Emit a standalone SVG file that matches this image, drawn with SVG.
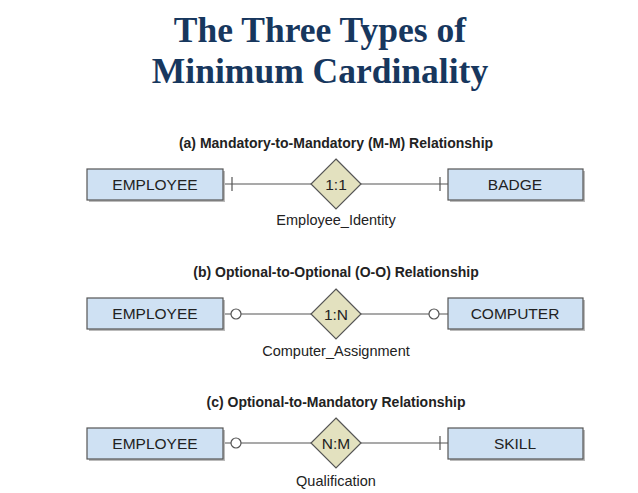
<svg xmlns="http://www.w3.org/2000/svg" width="638" height="493" viewBox="0 0 638 493">
<style>
.t{font-family:"Liberation Serif",serif;font-weight:bold;font-size:35.5px;fill:#17375e;text-anchor:middle}
.h{font-family:"Liberation Sans",Arial,sans-serif;font-weight:bold;font-size:14px;fill:#222;text-anchor:middle}
.l{font-family:"Liberation Sans",Arial,sans-serif;font-size:14.5px;fill:#222;text-anchor:middle}
.e{font-family:"Liberation Sans",Arial,sans-serif;font-size:15.5px;fill:#222;text-anchor:middle}
.box{fill:#cfe1f3;stroke:#555;stroke-width:1.2}
.sh{fill:#bbb}
.dia{fill:#e3e1bf;stroke:#555;stroke-width:1.2}
.ln{stroke:#555;stroke-width:1.2;fill:none}
.c{fill:#fff;stroke:#555;stroke-width:1.2}
</style>
<rect width="638" height="493" fill="#fff"/>
<text class="t" x="320" y="42">The Three Types of</text>
<text class="t" x="320" y="83">Minimum Cardinality</text>
<text class="h" x="336" y="148">(a) Mandatory-to-Mandatory (M-M) Relationship</text>
<text class="h" x="336" y="277">(b) Optional-to-Optional (O-O) Relationship</text>
<text class="h" x="336" y="407">(c) Optional-to-Mandatory Relationship</text>
<g id="connectors">
<path class="ln" d="M223 184H311M361 184H448M232 177V191M440 177V191"/>
<path class="ln" d="M223 314H231M241 314H311M361 314H429M439 314H448"/>
<circle class="c" cx="236" cy="314" r="5"/><circle class="c" cx="434" cy="314" r="5"/>
<path class="ln" d="M223 443H231M241 443H311M361 443H448M440 436V450"/>
<circle class="c" cx="236" cy="443" r="5"/>
</g>
<g id="emp_a"><rect class="sh" x="89" y="171" width="136" height="31"/><rect class="box" x="87" y="169" width="136" height="31"/><text class="e" x="155" y="190">EMPLOYEE</text></g>
<g id="badge"><rect class="sh" x="450" y="171" width="135" height="31"/><rect class="box" x="448" y="169" width="135" height="31"/><text class="e" x="515" y="190">BADGE</text></g>
<g id="rel_a"><polygon class="dia" points="336,159 361,184 336,209 311,184"/><text class="e" x="336" y="190">1:1</text><text class="l" x="336" y="225">Employee_Identity</text></g>
<g id="emp_b"><rect class="sh" x="89" y="300" width="136" height="31"/><rect class="box" x="87" y="298" width="136" height="31"/><text class="e" x="155" y="319">EMPLOYEE</text></g>
<g id="computer"><rect class="sh" x="450" y="300" width="135" height="31"/><rect class="box" x="448" y="298" width="135" height="31"/><text class="e" x="515" y="319">COMPUTER</text></g>
<g id="rel_b"><polygon class="dia" points="336,289 361,314 336,339 311,314"/><text class="e" x="336" y="320">1:N</text><text class="l" x="336" y="356">Computer_Assignment</text></g>
<g id="emp_c"><rect class="sh" x="89" y="430" width="136" height="31"/><rect class="box" x="87" y="428" width="136" height="31"/><text class="e" x="155" y="449">EMPLOYEE</text></g>
<g id="skill"><rect class="sh" x="450" y="430" width="135" height="31"/><rect class="box" x="448" y="428" width="135" height="31"/><text class="e" x="515" y="449">SKILL</text></g>
<g id="rel_c"><polygon class="dia" points="336,418 361,443 336,468 311,443"/><text class="e" x="336" y="449">N:M</text><text class="l" x="336" y="486">Qualification</text></g>
</svg>
